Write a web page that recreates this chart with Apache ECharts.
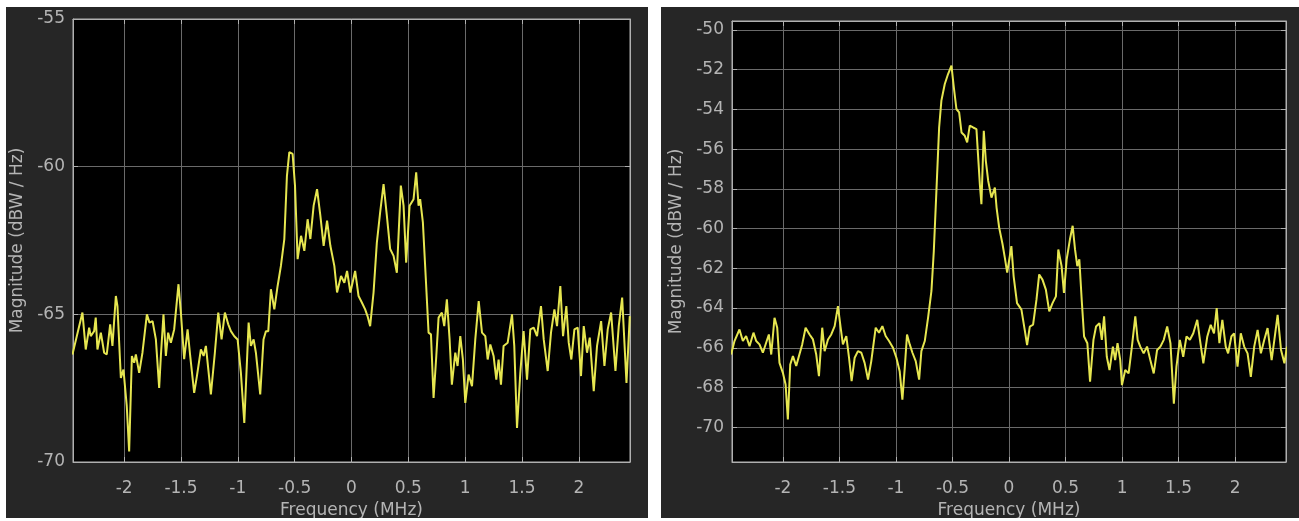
<!DOCTYPE html>
<html><head><meta charset="utf-8">
<script src="https://cdn.jsdelivr.net/npm/echarts@6/dist/echarts.min.js"></script>
<style>
html,body{margin:0;padding:0;background:#ffffff;width:1299px;height:521px;overflow:hidden;}
#c1{position:absolute;left:6px;top:7px;width:642px;height:511px;}
#c2{position:absolute;left:661px;top:7px;width:638px;height:511px;}
</style></head><body>
<div id="c1"></div><div id="c2"></div>
<script>
// ---- data ----
const xTicks = [-2, -1.5, -1, -0.5, 0, 0.5, 1, 1.5, 2];
const leftYTicks = [-70, -65, -60, -55];
const rightYTicks = [-70, -68, -66, -64, -62, -60, -58, -56, -54, -52, -50];

const leftFreq = [-2.455,-2.367,-2.338,-2.308,-2.294,-2.264,-2.250,-2.235,-2.205,-2.176,-2.153,-2.123,-2.103,-2.073,-2.059,-2.029,-2.006,-1.977,-1.956,-1.932,-1.912,-1.897,-1.868,-1.839,-1.800,-1.777,-1.750,-1.721,-1.692,-1.677,-1.654,-1.633,-1.613,-1.589,-1.560,-1.522,-1.501,-1.472,-1.442,-1.419,-1.384,-1.360,-1.325,-1.301,-1.281,-1.237,-1.202,-1.172,-1.143,-1.114,-1.084,-1.061,-1.031,-1.002,-0.973,-0.943,-0.905,-0.885,-0.861,-0.841,-0.803,-0.774,-0.753,-0.732,-0.709,-0.679,-0.650,-0.621,-0.591,-0.568,-0.547,-0.518,-0.497,-0.474,-0.444,-0.415,-0.386,-0.362,-0.333,-0.303,-0.274,-0.245,-0.215,-0.186,-0.151,-0.127,-0.092,-0.063,-0.039,-0.010,0.032,0.062,0.091,0.120,0.141,0.164,0.194,0.223,0.252,0.282,0.311,0.340,0.370,0.399,0.434,0.458,0.481,0.511,0.546,0.569,0.590,0.604,0.628,0.657,0.678,0.699,0.722,0.746,0.766,0.795,0.816,0.839,0.863,0.883,0.913,0.933,0.957,0.980,1.001,1.030,1.060,1.089,1.119,1.148,1.177,1.198,1.221,1.250,1.274,1.294,1.315,1.338,1.374,1.412,1.432,1.456,1.485,1.514,1.544,1.573,1.603,1.632,1.667,1.691,1.726,1.755,1.785,1.808,1.837,1.861,1.890,1.911,1.934,1.961,1.990,2.019,2.043,2.072,2.096,2.131,2.160,2.196,2.225,2.254,2.284,2.322,2.351,2.381,2.419,2.448];
const leftMag = [-66.36,-64.94,-66.19,-65.45,-65.74,-65.57,-65.11,-66.19,-65.62,-66.30,-66.36,-65.34,-66.07,-64.38,-64.72,-67.15,-66.87,-68.11,-69.64,-66.41,-66.64,-66.36,-66.98,-66.30,-65.00,-65.28,-65.23,-65.85,-67.49,-66.41,-65.00,-66.41,-65.62,-65.96,-65.51,-63.98,-64.94,-66.52,-65.51,-66.41,-67.66,-67.09,-66.19,-66.41,-66.07,-67.71,-66.30,-64.94,-65.85,-64.94,-65.34,-65.57,-65.74,-65.85,-66.98,-68.68,-65.28,-66.07,-65.85,-66.30,-67.71,-65.85,-65.57,-65.57,-64.15,-64.83,-64.04,-63.36,-62.45,-60.31,-59.51,-59.57,-60.64,-63.13,-62.34,-62.85,-61.78,-62.45,-61.32,-60.76,-61.66,-62.68,-61.83,-62.68,-63.36,-64.26,-63.70,-63.93,-63.53,-64.26,-63.53,-64.38,-64.60,-64.83,-65.06,-65.40,-64.26,-62.57,-61.55,-60.59,-61.66,-62.79,-63.02,-63.59,-60.64,-61.32,-63.25,-61.32,-61.10,-60.19,-61.32,-61.10,-61.89,-64.04,-65.62,-65.68,-67.83,-66.41,-65.11,-64.94,-65.40,-64.49,-65.85,-67.38,-66.30,-66.75,-65.74,-66.53,-68.00,-67.04,-67.43,-65.85,-64.55,-65.62,-65.74,-66.53,-66.02,-66.41,-67.21,-66.53,-67.38,-66.07,-65.96,-65.00,-66.07,-68.85,-66.98,-65.57,-67.21,-65.51,-65.45,-65.74,-64.72,-65.85,-66.92,-65.62,-64.83,-65.40,-64.04,-65.74,-64.72,-65.96,-66.53,-65.51,-65.45,-67.09,-65.40,-66.30,-65.79,-67.60,-66.07,-65.23,-66.75,-65.51,-64.94,-66.92,-65.40,-64.43,-67.32,-65.06];

const rightFreq = [-2.458,-2.428,-2.384,-2.354,-2.325,-2.295,-2.260,-2.236,-2.207,-2.177,-2.148,-2.124,-2.103,-2.074,-2.050,-2.030,-2.000,-1.976,-1.956,-1.935,-1.911,-1.882,-1.858,-1.829,-1.799,-1.764,-1.734,-1.705,-1.681,-1.652,-1.631,-1.601,-1.572,-1.542,-1.513,-1.489,-1.469,-1.439,-1.415,-1.392,-1.365,-1.336,-1.306,-1.277,-1.247,-1.218,-1.179,-1.150,-1.120,-1.091,-1.061,-1.026,-0.996,-0.967,-0.943,-0.922,-0.902,-0.878,-0.854,-0.825,-0.795,-0.775,-0.745,-0.716,-0.686,-0.665,-0.642,-0.618,-0.598,-0.568,-0.539,-0.509,-0.488,-0.465,-0.441,-0.420,-0.391,-0.370,-0.347,-0.317,-0.288,-0.258,-0.244,-0.223,-0.205,-0.184,-0.155,-0.125,-0.110,-0.087,-0.057,-0.037,-0.016,0.021,0.041,0.071,0.110,0.139,0.160,0.184,0.213,0.243,0.267,0.296,0.326,0.356,0.385,0.415,0.436,0.465,0.486,0.510,0.539,0.563,0.584,0.604,0.622,0.643,0.664,0.693,0.717,0.747,0.770,0.800,0.821,0.841,0.865,0.889,0.919,0.939,0.960,0.984,0.999,1.028,1.058,1.087,1.117,1.138,1.161,1.191,1.221,1.250,1.280,1.310,1.339,1.369,1.399,1.428,1.458,1.481,1.511,1.541,1.570,1.600,1.630,1.665,1.689,1.719,1.754,1.784,1.813,1.837,1.861,1.887,1.917,1.938,1.967,1.991,2.021,2.050,2.080,2.110,2.139,2.169,2.199,2.228,2.258,2.287,2.323,2.347,2.376,2.406,2.436,2.459];
const rightMag = [-66.34,-65.66,-65.08,-65.66,-65.41,-65.92,-65.24,-65.66,-65.83,-66.25,-65.75,-65.33,-66.34,-64.49,-64.99,-66.76,-67.26,-67.85,-69.61,-66.84,-66.42,-66.92,-66.42,-65.83,-64.99,-65.33,-65.58,-66.34,-67.43,-64.99,-66.17,-65.58,-65.33,-64.91,-63.90,-64.99,-65.83,-65.41,-66.50,-67.68,-66.50,-66.17,-66.25,-66.76,-67.60,-66.67,-64.99,-65.24,-64.91,-65.41,-65.66,-66.00,-66.50,-67.18,-68.61,-67.01,-65.33,-65.83,-66.25,-66.67,-67.60,-66.17,-65.66,-64.49,-63.14,-61.13,-58.10,-54.91,-53.56,-52.72,-52.22,-51.80,-52.89,-53.98,-54.15,-55.16,-55.33,-55.66,-54.82,-54.91,-54.99,-57.76,-58.77,-55.08,-56.59,-57.60,-58.44,-57.93,-58.94,-59.95,-60.79,-61.46,-62.22,-60.88,-62.40,-63.75,-64.08,-65.10,-65.86,-64.93,-64.84,-63.58,-62.31,-62.57,-63.07,-64.17,-63.75,-63.41,-61.05,-61.89,-63.24,-61.55,-60.54,-59.86,-61.05,-61.89,-61.55,-63.58,-65.43,-65.77,-67.71,-65.60,-64.93,-64.76,-65.60,-64.42,-66.45,-67.12,-65.94,-66.62,-65.77,-66.62,-67.88,-67.12,-67.29,-65.94,-64.42,-65.60,-65.94,-66.28,-65.94,-66.62,-67.29,-66.11,-65.94,-65.60,-64.93,-65.77,-68.81,-66.95,-65.60,-66.45,-65.43,-65.60,-65.27,-64.59,-65.60,-66.78,-65.43,-64.84,-65.27,-64.00,-65.77,-64.59,-65.94,-66.28,-65.43,-65.27,-66.95,-65.27,-65.94,-66.28,-67.46,-65.94,-65.10,-66.28,-65.60,-65.01,-66.62,-65.60,-64.34,-66.11,-66.78,-65.94];

// ---- style ----
const FONT = 'DejaVu Sans';
const labelColor = '#b4b4b4';
const frameColor = '#b0b0b0';
const gridColor = '#6a6a6a';
const traceColor = '#e6e650';

function buildOption(freq, mag, yMin, yMax, yTicks, grid, nameGapY) {
  const data = freq.map((f, i) => [f, mag[i]]);
  const axisLineCfg = { show: true, onZero: false, lineStyle: { color: frameColor, width: 1 } };
  return {
    backgroundColor: '#262626',
    animation: false,
    grid: Object.assign({ show: true, backgroundColor: '#000000', borderColor: frameColor, borderWidth: 1,
      containLabel: false, outerBoundsMode: 'none' }, grid),
    xAxis: [{
      type: 'value', min: -2.45, max: 2.45, position: 'bottom',
      axisLine: axisLineCfg,
      axisTick: { show: true, inside: true, length: 5, customValues: xTicks, lineStyle: { color: frameColor } },
      axisLabel: { customValues: xTicks, color: labelColor, fontFamily: FONT, fontSize: 17, margin: 18 },
      splitLine: { show: true, lineStyle: { color: gridColor, width: 1 } },
      name: 'Frequency (MHz)', nameLocation: 'middle', nameGap: 40,
      nameTextStyle: { color: labelColor, fontFamily: FONT, fontSize: 17 }
    }, {
      type: 'value', min: -2.45, max: 2.45, position: 'top',
      axisLine: axisLineCfg,
      axisTick: { show: true, inside: true, length: 5, customValues: xTicks, lineStyle: { color: frameColor } },
      axisLabel: { show: false }, splitLine: { show: false }
    }],
    yAxis: [{
      type: 'value', min: yMin, max: yMax, position: 'left',
      axisLine: axisLineCfg,
      axisTick: { show: true, inside: true, length: 5, customValues: yTicks, lineStyle: { color: frameColor } },
      axisLabel: { customValues: yTicks, color: labelColor, fontFamily: FONT, fontSize: 17, margin: 8 },
      splitLine: { show: true, lineStyle: { color: gridColor, width: 1 } },
      name: 'Magnitude (dBW / Hz)', nameLocation: 'middle', nameGap: nameGapY,
      nameTextStyle: { color: labelColor, fontFamily: FONT, fontSize: 17 }
    }, {
      type: 'value', min: yMin, max: yMax, position: 'right',
      axisLine: axisLineCfg,
      axisTick: { show: true, inside: true, length: 5, customValues: yTicks, lineStyle: { color: frameColor } },
      axisLabel: { show: false }, splitLine: { show: false }
    }],
    series: [{
      type: 'line', data: data, showSymbol: false, xAxisIndex: 0, yAxisIndex: 0,
      lineStyle: { color: traceColor, width: 2 }, clip: true
    }]
  };
}

const c1 = echarts.init(document.getElementById('c1'));
c1.setOption(buildOption(leftFreq, leftMag, -70, -55, leftYTicks,
  { left: 67, top: 12, right: 18, bottom: 56 }, 46));
const c2 = echarts.init(document.getElementById('c2'));
c2.setOption(buildOption(rightFreq, rightMag, -71.75, -49.55, rightYTicks,
  { left: 71, top: 14, right: 13, bottom: 56 }, 46));
</script>
</body></html>
